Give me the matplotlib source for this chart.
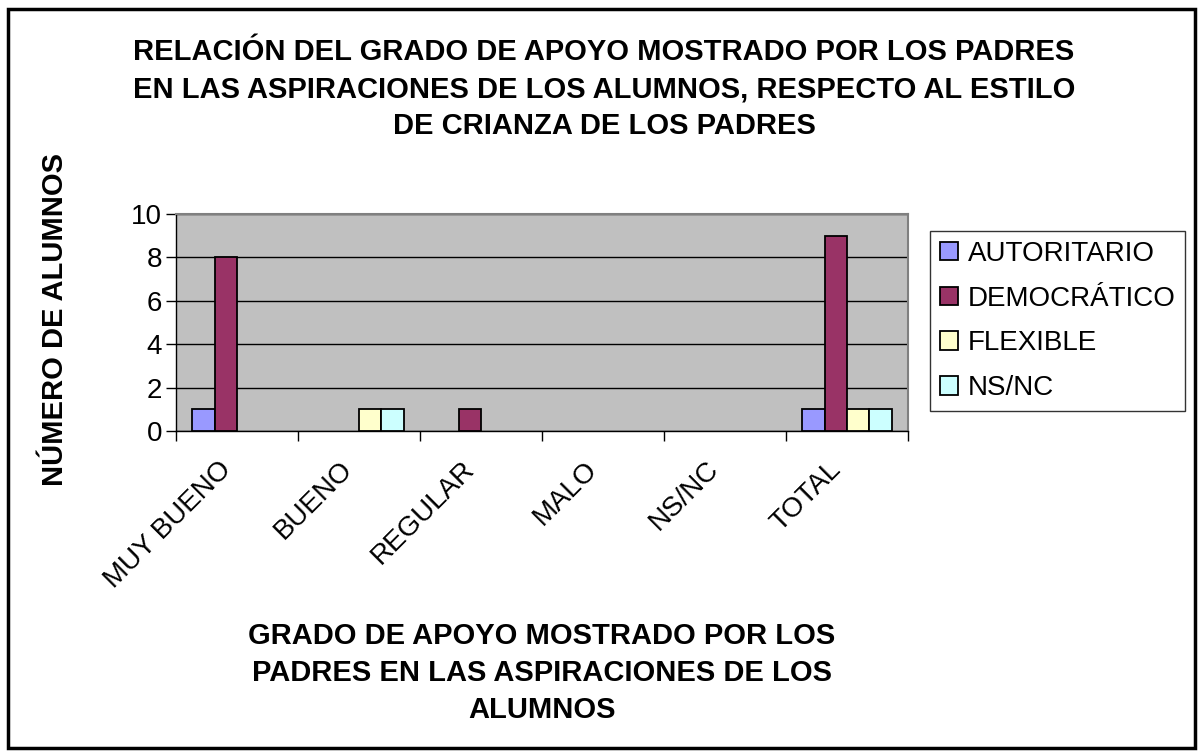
import matplotlib
matplotlib.use("Agg")
import matplotlib.pyplot as plt
import matplotlib.transforms as mtransforms
import numpy as np
from matplotlib.patches import Rectangle

plt.rcParams["font.family"] = ["Liberation Sans", "DejaVu Sans"]

categories = ["MUY BUENO", "BUENO", "REGULAR", "MALO", "NS/NC", "TOTAL"]
series = ["AUTORITARIO", "DEMOCRÁTICO", "FLEXIBLE", "NS/NC"]
autoritario = [1, 0, 0, 0, 0, 1]
democratico = [8, 0, 1, 0, 0, 9]
flexible = [0, 1, 0, 0, 0, 1]
nsnc = [0, 1, 0, 0, 0, 1]
colors = ["#9999FF", "#993366", "#FFFFCC", "#CCFFFF"]

title = ("RELACIÓN DEL GRADO DE APOYO MOSTRADO POR LOS PADRES\n"
         "EN LAS ASPIRACIONES DE LOS ALUMNOS, RESPECTO AL ESTILO\n"
         "DE CRIANZA DE LOS PADRES")
xlabel = ("GRADO DE APOYO MOSTRADO POR LOS\n"
          "PADRES EN LAS ASPIRACIONES DE LOS\n"
          "ALUMNOS")
ylabel = "NÚMERO DE ALUMNOS"

W, H = 1200, 754
fig = plt.figure(figsize=(W / 100, H / 100), dpi=100)
# plot area in pixels: x 176..908, y 214..431
ax = fig.add_axes([176 / W, 1 - 431 / H, (908 - 176) / W, (431 - 214) / H])
ax.set_facecolor("#C0C0C0")

x = np.arange(len(categories))
bw = 0.183
data = [autoritario, democratico, flexible, nsnc]
handles = []
for i, (name, vals, c) in enumerate(zip(series, data, colors)):
    pos = x + (i - 1.5) * bw
    vals = np.array(vals, dtype=float)
    mask = vals > 0
    ax.bar(pos[mask], vals[mask], width=bw, color=c, edgecolor="black",
           linewidth=1.3, zorder=3)
    handles.append(Rectangle((0, 0), 1, 1, facecolor=c, edgecolor="black", linewidth=1.3))

ax.set_xlim(-0.5, len(categories) - 0.5)
ax.set_ylim(0, 10)
ax.set_yticks(range(0, 11, 2))
ax.yaxis.grid(True, color="black", linewidth=1)
ax.set_axisbelow(True)
ax.set_xticks(np.arange(-0.5, len(categories), 1.0))
ax.set_xticklabels([])
ax.set_xticks(x, minor=True)
ax.set_xticklabels(categories, minor=True, rotation=45, ha="right", va="center",
                   rotation_mode="anchor", fontsize=20)
ax.tick_params(axis="x", which="minor", length=0, pad=22)
ax.tick_params(axis="x", which="major", length=7, width=1, direction="out")
ax.tick_params(axis="y", length=7, width=1, direction="out", labelsize=20, pad=3)
# nudge the slanted labels a little to the left, as in the original
shift = mtransforms.ScaledTranslation(-0.10, -0.04, fig.dpi_scale_trans)
for lab in ax.get_xticklabels(minor=True):
    lab.set_transform(lab.get_transform() + shift)
for s in ["top", "right"]:
    ax.spines[s].set_color("#808080")
    ax.spines[s].set_linewidth(1.5)
for s in ["left", "bottom"]:
    ax.spines[s].set_color("black")
    ax.spines[s].set_linewidth(1)

fig.text(604 / W, 1 - 89 / H, title, ha="center", va="center", fontsize=21,
         fontweight="bold", linespacing=1.42)
fig.text(542 / W, 1 - 673 / H, xlabel, ha="center", va="center", fontsize=21,
         fontweight="bold", linespacing=1.42)
fig.text(55 / W, 1 - 320 / H, ylabel, ha="center", va="center", fontsize=21,
         fontweight="bold", rotation=90)

leg = fig.legend(handles, series, loc="upper left",
                 bbox_to_anchor=(930 / W, 1 - 231 / H), fontsize=20,
                 frameon=True, fancybox=False, edgecolor="black",
                 handlelength=0.65, handleheight=0.65, handletextpad=0.35,
                 labelspacing=0.68, borderpad=0.35, borderaxespad=0)
leg.get_frame().set_linewidth(1)

fig.patches.append(Rectangle((8 / W, 1 - 748 / H), (1195 - 8) / W, (748 - 9) / H,
                             transform=fig.transFigure, fill=False,
                             edgecolor="black", linewidth=2.5))

fig.savefig("out.png", dpi=100)
